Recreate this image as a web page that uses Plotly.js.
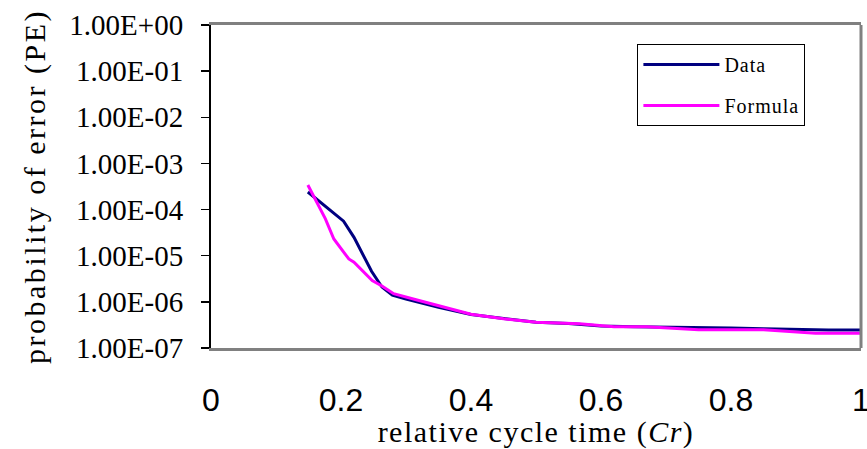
<!DOCTYPE html>
<html>
<head>
<meta charset="utf-8">
<script src="https://cdn.plot.ly/plotly-3.0.1.min.js"></script>
<style>
  html, body { margin: 0; padding: 0; background: #fff; }
  #chart { width: 867px; height: 449px; }
  .ytitle { letter-spacing: 2.5px; }
  .xtitle { letter-spacing: 1.5px; }
  .legendtext { letter-spacing: 1px; }
</style>
</head>
<body>
<div id="chart"></div>
<script>
// Data series
const dataX = [0.149, 0.204, 0.22, 0.235, 0.247, 0.263, 0.279, 0.30, 0.35, 0.40, 0.45, 0.50, 0.55, 0.60, 0.65, 0.70, 0.75, 0.80, 0.85, 0.90, 0.95, 1.0];
const dataY = [2.4e-4, 5.6e-5, 2.5e-5, 1.0e-5, 4.6e-6, 2.1e-6, 1.4e-6, 1.15e-6, 7.6e-7, 5.3e-7, 4.3e-7, 3.6e-7, 3.4e-7, 3.0e-7, 2.9e-7, 2.85e-7, 2.8e-7, 2.7e-7, 2.6e-7, 2.5e-7, 2.45e-7, 2.45e-7];

const formulaX = [0.149, 0.161, 0.176, 0.189, 0.212, 0.22, 0.243, 0.248, 0.263, 0.281, 0.317, 0.368, 0.40, 0.45, 0.50, 0.567, 0.62, 0.67, 0.75, 0.80, 0.85, 0.93, 1.0];
const formulaY = [3.4e-4, 1.6e-4, 6.3e-5, 2.3e-5, 8.5e-6, 7.2e-6, 3.3e-6, 2.9e-6, 2.2e-6, 1.5e-6, 1.1e-6, 7.2e-7, 5.4e-7, 4.3e-7, 3.6e-7, 3.35e-7, 2.9e-7, 2.9e-7, 2.5e-7, 2.5e-7, 2.5e-7, 2.1e-7, 2.1e-7];

const yTickVals = [1e-7, 1e-6, 1e-5, 1e-4, 1e-3, 1e-2, 1e-1, 1];
const yTickText = ["1.00E-07", "1.00E-06", "1.00E-05", "1.00E-04", "1.00E-03", "1.00E-02", "1.00E-01", "1.00E+00"];
const xTickVals = [0, 0.2, 0.4, 0.6, 0.8, 1];
const xTickText = ["0", "0.2", "0.4", "0.6", "0.8", "1"];

const serif = "Liberation Serif, Times New Roman, serif";
const sans = "Liberation Sans, Arial, sans-serif";

const traces = [
  { x: dataX, y: dataY, name: "Data", type: "scatter", mode: "lines",
    line: { color: "#000080", width: 3 }, legendgroup: "a" },
  { x: formulaX, y: formulaY, name: "Formula", type: "scatter", mode: "lines",
    line: { color: "#FF00FF", width: 3 }, legendgroup: "b" }
];

const layout = {
  width: 867, height: 449,
  margin: { l: 211, r: 6, t: 25, b: 101 },
  paper_bgcolor: "#ffffff", plot_bgcolor: "#ffffff",
  showlegend: true,
  legend: {
    x: 0.656, y: 0.941, xanchor: "left", yanchor: "top",
    bordercolor: "#000000", borderwidth: 1, bgcolor: "#ffffff",
    font: { family: serif, size: 20, color: "#000" },
    traceorder: "grouped", tracegroupgap: 12, itemwidth: 76
  },
  xaxis: {
    range: [0, 1], tickvals: xTickVals, ticktext: xTickText,
    showgrid: false, zeroline: false,
    showline: true, linecolor: "#808080", linewidth: 3, mirror: true,
    ticks: "", ticklabelstandoff: 22, ticklabeloverflow: "allow",
    tickfont: { family: sans, size: 32, color: "#000" },
    title: { text: "relative cycle time (<i>Cr</i>)", standoff: 2,
             font: { family: serif, size: 30, color: "#000" } }
  },
  yaxis: {
    type: "log", range: [-7, 0], tickvals: yTickVals, ticktext: yTickText,
    showgrid: false, zeroline: false,
    showline: true, linecolor: "#000000", linewidth: 2,
    ticks: "outside", ticklen: 8, tickwidth: 1.5, tickcolor: "#000",
    ticklabelstandoff: 12,
    tickfont: { family: serif, size: 29, color: "#000" },
    title: { text: "probability of error (PE)", standoff: 15,
             font: { family: serif, size: 30, color: "#000" } }
  },
  shapes: [
    { type: "line", xref: "paper", yref: "paper", x0: 1, x1: 1, y0: 0, y1: 1,
      line: { color: "#808080", width: 3 } }
  ]
};

Plotly.newPlot("chart", traces, layout, { displayModeBar: false, staticPlot: true });
</script>
</body>
</html>
